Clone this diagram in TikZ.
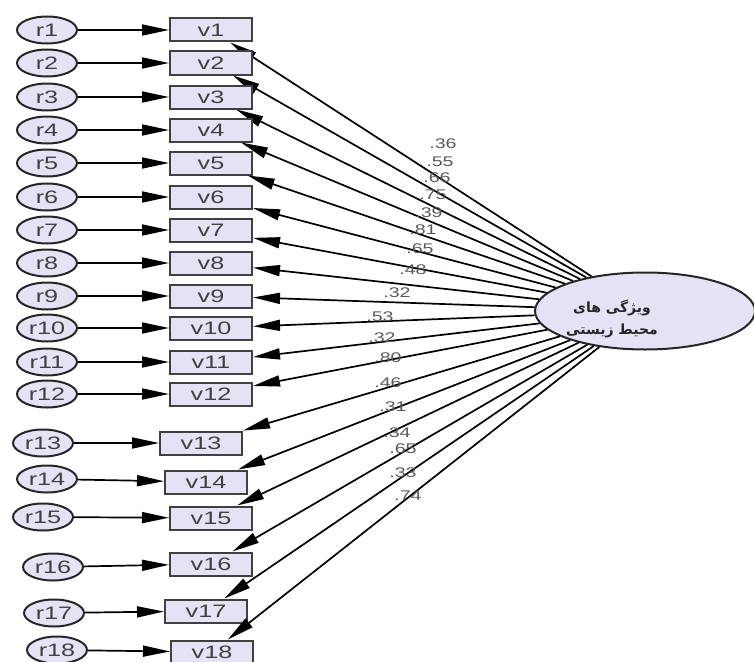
\documentclass[tikz,border=0pt]{standalone}
\usepackage{fontspec}
\setmainfont{Liberation Sans}
\newfontfamily\amos[FakeStretch=1.4]{Liberation Sans}
\newfontfamily\farsi[Script=Arabic]{DejaVu Sans}
\TeXXeTstate=1
\usepackage{tikz}
\usetikzlibrary{shapes.geometric}
\usetikzlibrary{arrows.meta}
\usetikzlibrary{calc}
\definecolor{lavande}{RGB}{230,226,245}
\tikzset{
  err/.style={ellipse,draw=black!85,line width=2pt,fill=lavande,minimum width=60pt,minimum height=27pt,inner sep=0pt,font=\amos\fontsize{18}{18}\selectfont,text=black!75},
  obs/.style={rectangle,draw=black!75,line width=2pt,fill=lavande,minimum width=82pt,minimum height=23pt,inner sep=0pt,font=\amos\fontsize{18}{18}\selectfont,text=black!75},
  fleche/.style={-{Triangle[length=27pt,width=11pt]},line width=1.7pt},
  poids/.style={font=\amos\fontsize{14}{14}\selectfont,text=black!65,inner sep=0pt}
}

\begin{document}
\begin{tikzpicture}[x=1pt,y=-1pt]
            \useasboundingbox (0,0) rectangle (754,661);
                \node[ellipse,draw=black!85,line width=2pt,fill=lavande,minimum width=220pt,minimum height=77pt] (env) at (645,311) {};
                \node[font=\farsi\bfseries\fontsize{14}{22}\selectfont,align=center,text=black!85] (envtxt) at ($(env)+(-33,8)$) {\beginR ویژگی های\endR\\\beginR محیط زیستی\endR};
                \foreach \i/\rx/\ry/\vx/\vy/\w/\lx/\ly in {
                    1/47/30/211/30/.36/443/144, 2/47/63/211/63/.55/440/162,
                    3/47/97/211/97/.66/437/178, 4/47/130/211/130/.75/433/195,
                    5/47/163/211/163/.39/429/213, 6/47/197/211/197/.81/423/230,
                    7/47/230/211/230/.65/420/249, 8/47/263/211/263/.48/413/270,
                    9/47/296/211/296/.32/397/293, 10/47/328/211/328/.53/380/317,
                    11/47/362/211/362/.32/382/338, 12/47/394/211/394/.80/388/358,
                    13/43/443/201/443/.46/388/383, 14/47/479/206/482/.31/393/407,
                    15/43/517/211/518/.34/397/433, 16/53/567/211/564/.65/403/449,
                    17/54/613/206/611/.33/403/473, 18/57/650/212/652/.74/408/496}{
                    \node[err] (r\i) at (\rx,\ry) {r\i};
                    \node[obs] (v\i) at (\vx,\vy) {v\i};
                    \draw[fleche] (r\i) -- (v\i);
                    \draw[fleche] (env) -- (v\i);
                    \node[poids] (w\i) at (\lx,\ly) {\w};
                }
            \end{tikzpicture}
\end{document}
